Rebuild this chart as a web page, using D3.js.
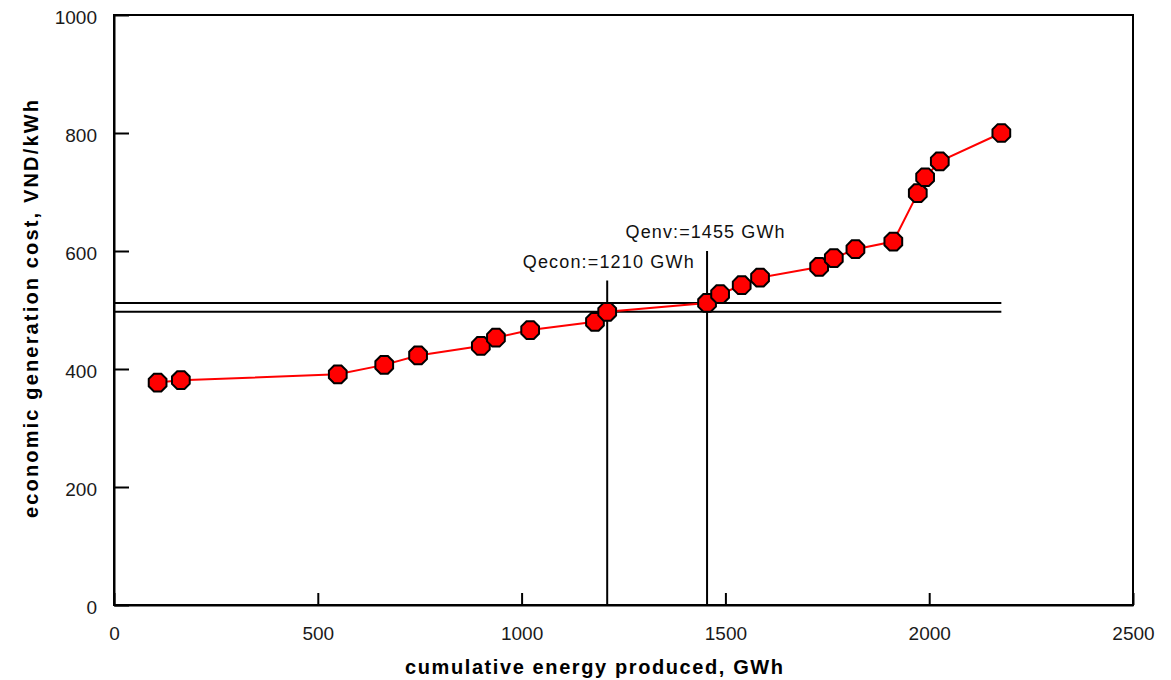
<!DOCTYPE html>
<html>
<head>
<meta charset="utf-8">
<script src="https://cdn.jsdelivr.net/npm/d3@7"></script>
<style>
  html, body { margin: 0; padding: 0; background: #fff; }
  svg { display: block; }
  text { font-family: "Liberation Sans", Arial, sans-serif; }
</style>
</head>
<body>
<svg id="chart" width="1171" height="680"></svg>
<script>
// Merit-order curve: cumulative energy (GWh) vs. economic generation cost (VND/kWh)
const energy = [107, 164, 549, 663, 746, 900, 937, 1021, 1180, 1210, 1455, 1487, 1540, 1585,
                1730, 1766, 1819, 1912, 1972, 1990, 2026, 2177];
const cost   = [377, 381, 391, 407, 423, 439, 453, 466, 480, 497, 512, 527, 542, 555,
                573, 588, 603, 616, 698, 725, 752, 800];

const xTicks = [0, 500, 1000, 1500, 2000, 2500];
const yTicks = [0, 200, 400, 600, 800, 1000];

// Marked quantities and their cost levels
const markNames  = ["Qecon:=1210 GWh", "Qenv:=1455 GWh"];
const markQty    = [1210, 1455];
const markCost   = [497, 512];
const markTop    = [550, 600];

const xTitle = "cumulative energy produced, GWh";
const yTitle = "economic generation cost, VND/kWh";

const W = 1171, H = 680;
const margin = { top: 15, right: 38, bottom: 75, left: 114 };
const iw = W - margin.left - margin.right;
const ih = H - margin.top - margin.bottom;

const svg = d3.select("#chart");
const g = svg.append("g").attr("transform", `translate(${margin.left},${margin.top})`);

const x = d3.scaleLinear().domain([0, 2500]).range([0, iw]);
const y = d3.scaleLinear().domain([0, 1000]).range([ih, 0]);

// Frame
g.append("rect")
  .attr("x", 0).attr("y", 0).attr("width", iw).attr("height", ih)
  .attr("fill", "none").attr("stroke", "#000").attr("stroke-width", 2);

// Axes with inward ticks
const xAxis = g.append("g")
  .attr("transform", `translate(0,${ih})`)
  .call(d3.axisBottom(x).tickValues(xTicks).tickSizeInner(-12).tickSizeOuter(0).tickPadding(22)
        .tickFormat(d3.format("d")));
const yAxis = g.append("g")
  .call(d3.axisLeft(y).tickValues(yTicks).tickSizeInner(-15).tickSizeOuter(0).tickPadding(17)
        .tickFormat(d3.format("d")));

[xAxis, yAxis].forEach(ax => {
  ax.select(".domain").attr("stroke", "#000").attr("stroke-width", 2);
  ax.selectAll(".tick line").attr("stroke", "#000").attr("stroke-width", 2);
  ax.selectAll(".tick text")
    .attr("fill", "#1a1a1a")
    .style("font-size", "19px")
    .style("font-family", "'Liberation Sans', Arial, sans-serif");
});
yAxis.selectAll(".tick text").attr("dy", "0.45em");

// Horizontal cost levels, spanning to the end of the curve
const xEnd = d3.max(energy);
g.selectAll("line.level")
  .data(markCost)
  .join("line")
  .attr("class", "level")
  .attr("x1", x(0)).attr("x2", x(xEnd))
  .attr("y1", d => y(d)).attr("y2", d => y(d))
  .attr("stroke", "#000").attr("stroke-width", 2);

// Vertical quantity markers
g.selectAll("line.qty")
  .data(markQty)
  .join("line")
  .attr("class", "qty")
  .attr("x1", d => x(d)).attr("x2", d => x(d))
  .attr("y1", y(0)).attr("y2", (d, i) => y(markTop[i]))
  .attr("stroke", "#000").attr("stroke-width", 2);

// Quantity labels
const labelWidths = [171, 159];
g.selectAll("text.qlabel")
  .data(markNames)
  .join("text")
  .attr("class", "qlabel")
  .attr("x", (d, i) => x(markQty[i]) - (i === 1 ? 2 : -1))
  .attr("y", (d, i) => y(markTop[i]) - 13)
  .attr("text-anchor", "middle")
  .attr("fill", "#111")
  .style("font-size", "18px")
  .attr("textLength", (d, i) => labelWidths[i])
  .attr("lengthAdjust", "spacing")
  .text(d => d);

// Cost curve
const pts = energy.map((e, i) => [e, cost[i]]);
g.append("path")
  .datum(pts)
  .attr("fill", "none")
  .attr("stroke", "#ff0000")
  .attr("stroke-width", 2)
  .attr("d", d3.line().x(d => x(d[0])).y(d => y(d[1])));

// Octagon markers
const r = 9.6;
const octagon = d3.range(8).map(k => {
  const a = Math.PI / 8 + k * Math.PI / 4;
  return [r * Math.cos(a), r * Math.sin(a)];
});
const octPath = "M" + octagon.map(p => p.join(",")).join("L") + "Z";
g.selectAll("path.pt")
  .data(pts)
  .join("path")
  .attr("class", "pt")
  .attr("transform", d => `translate(${x(d[0])},${y(d[1])})`)
  .attr("d", octPath)
  .attr("fill", "#ff0000")
  .attr("stroke", "#000")
  .attr("stroke-width", 2);

// Axis titles
svg.append("text")
  .attr("x", 594).attr("y", 674)
  .attr("text-anchor", "middle")
  .attr("font-weight", "bold")
  .attr("fill", "#000")
  .style("font-size", "20px")
  .attr("textLength", 378)
  .attr("lengthAdjust", "spacing")
  .text(xTitle);

svg.append("text")
  .attr("transform", `translate(38,${margin.top + ih / 2 - 1}) rotate(-90)`)
  .attr("text-anchor", "middle")
  .attr("font-weight", "bold")
  .attr("fill", "#000")
  .style("font-size", "20px")
  .attr("textLength", 418)
  .attr("lengthAdjust", "spacing")
  .text(yTitle);
</script>
</body>
</html>
